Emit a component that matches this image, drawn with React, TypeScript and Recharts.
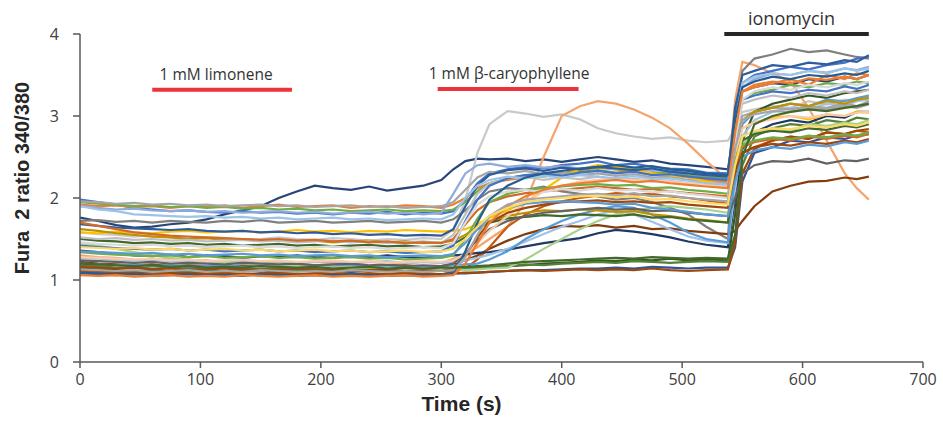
import React from 'react';
import { LineChart, Line, XAxis, YAxis, ReferenceLine, Label } from 'recharts';

// time points (s)
const times = [
  0, 15, 30, 45, 60, 75, 90, 105, 120, 135, 150, 165, 180, 195, 210, 225, 240, 255, 270, 285, 300,
  310, 320, 330, 340, 355, 370, 385, 400, 415,
  430, 445, 460, 475, 490, 505, 520, 538,
  544, 550, 560, 575, 590, 605, 620, 635, 645, 655,
];

const xTicks = [0, 100, 200, 300, 400, 500, 600, 700];
const yTicks = [0, 1, 2, 3, 4];

const cell01 = [
  1.76, 1.72, 1.67, 1.64, 1.65, 1.68, 1.70, 1.74, 1.80, 1.85, 1.90, 2.00, 2.08, 2.15, 2.12, 2.10, 2.14, 2.09, 2.12, 2.15, 2.22,
  2.35, 2.45, 2.48, 2.47, 2.48, 2.45, 2.47, 2.44, 2.47,
  2.50, 2.47, 2.44, 2.46, 2.42, 2.40, 2.38, 2.35,
  2.90, 3.30, 3.35, 3.40, 3.38, 3.45, 3.42, 3.48, 3.45, 3.50,
];
const cell02 = [
  1.58, 1.56, 1.55, 1.53, 1.55, 1.52, 1.50, 1.52, 1.51, 1.49, 1.50, 1.52, 1.50, 1.49, 1.51, 1.50, 1.48, 1.50, 1.49, 1.51, 1.50,
  1.62, 1.98, 2.55, 2.90, 3.06, 3.03, 2.99, 3.02, 2.96,
  2.85, 2.79, 2.75, 2.72, 2.74, 2.70, 2.68, 2.70,
  2.85, 3.05, 3.08, 3.12, 3.10, 3.18, 3.14, 3.20, 3.18, 3.25,
];
const cell03 = [
  1.30, 1.28, 1.27, 1.25, 1.24, 1.26, 1.23, 1.24, 1.22, 1.23, 1.21, 1.22, 1.20, 1.22, 1.21, 1.20, 1.22, 1.21, 1.20, 1.22, 1.21,
  1.26, 1.32, 1.40, 1.50, 1.65, 1.95, 2.50, 3.00, 3.12,
  3.18, 3.15, 3.08, 2.98, 2.85, 2.66, 2.45, 2.22,
  3.20, 3.66, 3.62, 3.52, 3.42, 3.10, 2.70, 2.30, 2.12, 1.98,
];
const cell04 = [
  1.72, 1.73, 1.71, 1.72, 1.70, 1.72, 1.71, 1.70, 1.72, 1.71, 1.73, 1.70, 1.71, 1.72, 1.70, 1.71, 1.72, 1.70, 1.71, 1.72, 1.70,
  1.74, 1.85, 1.98, 2.08, 2.12, 2.10, 2.14, 2.08, 2.05,
  2.02, 1.98, 2.00, 1.95, 1.88, 1.80, 1.65, 1.50,
  2.80, 3.55, 3.70, 3.75, 3.82, 3.78, 3.80, 3.75, 3.72, 3.70,
];
const cell05 = [
  1.22, 1.20, 1.19, 1.18, 1.19, 1.17, 1.18, 1.17, 1.16, 1.18, 1.17, 1.16, 1.17, 1.18, 1.16, 1.17, 1.16, 1.17, 1.18, 1.16, 1.17,
  1.19, 1.24, 1.30, 1.38, 1.48, 1.56, 1.62, 1.66, 1.65,
  1.67, 1.64, 1.66, 1.62, 1.63, 1.60, 1.58, 1.56,
  1.60, 1.72, 1.90, 2.08, 2.15, 2.20, 2.21, 2.25, 2.23, 2.26,
];
const cell06 = [
  1.10, 1.09, 1.08, 1.07, 1.09, 1.08, 1.07, 1.08, 1.06, 1.08, 1.07, 1.09, 1.07, 1.08, 1.06, 1.07, 1.08, 1.07, 1.06, 1.08, 1.07,
  1.10, 1.14, 1.25, 1.40, 1.65, 1.80, 1.90, 1.96, 2.00,
  2.03, 2.06, 2.04, 2.05, 2.02, 2.00, 1.97, 1.93,
  2.30, 2.55, 2.62, 2.70, 2.75, 2.72, 2.80, 2.78, 2.82, 2.80,
];
const cell07 = [
  1.14, 1.13, 1.12, 1.11, 1.12, 1.10, 1.11, 1.12, 1.10, 1.11, 1.12, 1.10, 1.11, 1.12, 1.11, 1.10, 1.12, 1.11, 1.10, 1.12, 1.11,
  1.12, 1.13, 1.14, 1.15, 1.17, 1.18, 1.20, 1.21, 1.22,
  1.24, 1.23, 1.25, 1.24, 1.26, 1.24, 1.25, 1.24,
  1.80, 2.70, 3.05, 3.15, 3.20, 3.25, 3.22, 3.28, 3.30, 3.32,
];
const cell08 = [
  1.18, 1.17, 1.15, 1.16, 1.14, 1.15, 1.14, 1.13, 1.15, 1.14, 1.13, 1.14, 1.12, 1.14, 1.13, 1.12, 1.13, 1.14, 1.12, 1.13, 1.12,
  1.13, 1.14, 1.15, 1.16, 1.17, 1.19, 1.18, 1.20, 1.21,
  1.22, 1.21, 1.23, 1.22, 1.21, 1.22, 1.23, 1.22,
  1.50, 2.40, 2.75, 2.85, 2.90, 2.88, 2.95, 2.92, 2.98, 2.96,
];
const cell09 = [
  1.09, 1.08, 1.07, 1.08, 1.06, 1.07, 1.08, 1.06, 1.07, 1.06, 1.08, 1.07, 1.06, 1.07, 1.06, 1.08, 1.07, 1.06, 1.07, 1.06, 1.07,
  1.08, 1.08, 1.09, 1.10, 1.11, 1.12, 1.12, 1.13, 1.14,
  1.14, 1.15, 1.14, 1.16, 1.15, 1.14, 1.15, 1.15,
  1.40, 2.20, 2.55, 2.62, 2.70, 2.68, 2.74, 2.72, 2.76, 2.78,
];
const cell10 = [
  1.12, 1.11, 1.10, 1.09, 1.10, 1.08, 1.09, 1.08, 1.09, 1.07, 1.08, 1.09, 1.07, 1.08, 1.09, 1.07, 1.08, 1.07, 1.09, 1.08, 1.07,
  1.08, 1.09, 1.09, 1.10, 1.11, 1.12, 1.11, 1.12, 1.13,
  1.12, 1.13, 1.12, 1.14, 1.12, 1.11, 1.12, 1.13,
  1.45, 2.30, 2.60, 2.70, 2.75, 2.72, 2.80, 2.78, 2.82, 2.84,
];
const cell11 = [
  1.36, 1.34, 1.32, 1.30, 1.29, 1.31, 1.28, 1.30, 1.29, 1.27, 1.29, 1.28, 1.30, 1.28, 1.27, 1.29, 1.28, 1.30, 1.28, 1.27, 1.29,
  1.30, 1.31, 1.33, 1.34, 1.37, 1.41, 1.45, 1.48, 1.51,
  1.57, 1.61, 1.59, 1.56, 1.52, 1.47, 1.43, 1.40,
  2.00, 2.60, 2.80, 2.90, 2.95, 2.92, 3.00, 2.98, 3.05, 3.05,
];
const cell12 = [
  1.27, 1.26, 1.25, 1.24, 1.25, 1.23, 1.24, 1.22, 1.23, 1.24, 1.22, 1.23, 1.21, 1.22, 1.23, 1.21, 1.22, 1.23, 1.21, 1.22, 1.21,
  1.22, 1.24, 1.27, 1.31, 1.38, 1.47, 1.56, 1.65, 1.72,
  1.80, 1.85, 1.80, 1.71, 1.62, 1.53, 1.48, 1.45,
  2.10, 2.75, 2.95, 3.05, 3.10, 3.08, 3.15, 3.12, 3.18, 3.20,
];
const cell13 = [
  1.20, 1.19, 1.18, 1.19, 1.17, 1.18, 1.16, 1.17, 1.18, 1.16, 1.17, 1.18, 1.16, 1.17, 1.16, 1.18, 1.17, 1.16, 1.17, 1.16, 1.17,
  1.18, 1.19, 1.20, 1.25, 1.35, 1.50, 1.62, 1.72, 1.80,
  1.86, 1.90, 1.88, 1.80, 1.70, 1.58, 1.50, 1.46,
  2.30, 2.90, 3.05, 3.10, 3.15, 3.12, 3.20, 3.18, 3.22, 3.25,
];
const cell14 = [
  1.45, 1.42, 1.38, 1.34, 1.30, 1.27, 1.25, 1.23, 1.22, 1.20, 1.19, 1.18, 1.17, 1.16, 1.15, 1.16, 1.14, 1.15, 1.13, 1.14, 1.13,
  1.13, 1.12, 1.13, 1.14, 1.15, 1.25, 1.38, 1.50, 1.62,
  1.72, 1.80, 1.85, 1.88, 1.90, 1.88, 1.86, 1.82,
  2.20, 2.65, 2.80, 2.85, 2.82, 2.90, 2.88, 2.92, 2.90, 2.95,
];
const cell15 = [
  1.98, 1.95, 1.92, 1.88, 1.86, 1.84, 1.85, 1.83, 1.82, 1.84, 1.82, 1.83, 1.81, 1.82, 1.80, 1.82, 1.81, 1.83, 1.80, 1.82, 1.81,
  1.84, 1.98, 2.18, 2.30, 2.35, 2.38, 2.36, 2.40, 2.42,
  2.45, 2.40, 2.42, 2.38, 2.36, 2.35, 2.31, 2.30,
  3.00, 3.40, 3.50, 3.55, 3.60, 3.57, 3.62, 3.65, 3.70, 3.72,
];
const cell16 = [
  1.92, 1.90, 1.91, 1.89, 1.90, 1.88, 1.90, 1.89, 1.91, 1.88, 1.90, 1.92, 1.89, 1.90, 1.91, 1.88, 1.90, 1.89, 1.91, 1.90, 1.88,
  1.92, 2.00, 2.12, 2.18, 2.22, 2.25, 2.28, 2.30, 2.34,
  2.37, 2.35, 2.32, 2.30, 2.28, 2.25, 2.22, 2.20,
  2.90, 3.30, 3.35, 3.40, 3.45, 3.38, 3.50, 3.45, 3.52, 3.50,
];
const cell17 = [
  1.95, 1.93, 1.92, 1.90, 1.91, 1.89, 1.90, 1.88, 1.89, 1.87, 1.88, 1.86, 1.87, 1.85, 1.86, 1.84, 1.85, 1.86, 1.84, 1.85, 1.84,
  1.86, 1.95, 2.08, 2.18, 2.24, 2.28, 2.26, 2.30, 2.32,
  2.34, 2.31, 2.33, 2.30, 2.32, 2.28, 2.26, 2.24,
  2.90, 3.20, 3.28, 3.32, 3.38, 3.35, 3.40, 3.38, 3.42, 3.40,
];
const cell18 = [
  1.96, 1.95, 1.93, 1.94, 1.92, 1.93, 1.91, 1.92, 1.90, 1.91, 1.92, 1.90, 1.91, 1.89, 1.90, 1.91, 1.89, 1.90, 1.88, 1.89, 1.90,
  1.95, 2.10, 2.25, 2.32, 2.30, 2.33, 2.29, 2.31, 2.28,
  2.30, 2.27, 2.29, 2.25, 2.26, 2.22, 2.20, 2.18,
  2.70, 3.00, 3.05, 3.10, 3.08, 3.12, 3.10, 3.15, 3.12, 3.18,
];
const cell19 = [
  1.90, 1.88, 1.86, 1.87, 1.85, 1.84, 1.85, 1.83, 1.84, 1.82, 1.83, 1.84, 1.82, 1.83, 1.81, 1.82, 1.83, 1.81, 1.82, 1.80, 1.82,
  2.05, 2.30, 2.40, 2.42, 2.38, 2.40, 2.37, 2.39, 2.36,
  2.38, 2.35, 2.37, 2.33, 2.34, 2.30, 2.28, 2.27,
  2.90, 3.35, 3.45, 3.52, 3.50, 3.55, 3.53, 3.58, 3.56, 3.60,
];
const cell20 = [
  1.58, 1.57, 1.59, 1.58, 1.57, 1.59, 1.60, 1.58, 1.59, 1.60, 1.58, 1.59, 1.61, 1.59, 1.60, 1.58, 1.60, 1.59, 1.61, 1.60, 1.59,
  1.60, 1.62, 1.68, 1.76, 1.85, 1.95, 2.10, 2.25, 2.35,
  2.40, 2.38, 2.35, 2.30, 2.28, 2.25, 2.20, 2.15,
  2.60, 2.85, 2.92, 2.98, 3.00, 2.96, 3.02, 3.00, 3.05, 3.04,
];
const cell21 = [
  1.62, 1.60, 1.57, 1.55, 1.53, 1.52, 1.50, 1.51, 1.49, 1.50, 1.48, 1.49, 1.47, 1.48, 1.46, 1.47, 1.48, 1.46, 1.47, 1.45, 1.46,
  1.48, 1.55, 1.65, 1.72, 1.78, 1.82, 1.85, 1.84, 1.86,
  1.85, 1.83, 1.84, 1.80, 1.78, 1.75, 1.73, 1.70,
  2.50, 2.95, 3.05, 3.10, 3.15, 3.12, 3.18, 3.15, 3.20, 3.22,
];
const cell22 = [
  1.50, 1.48, 1.47, 1.45, 1.46, 1.44, 1.45, 1.43, 1.44, 1.42, 1.43, 1.44, 1.42, 1.43, 1.41, 1.42, 1.43, 1.41, 1.42, 1.40, 1.41,
  1.44, 1.52, 1.62, 1.70, 1.75, 1.77, 1.79, 1.78, 1.80,
  1.79, 1.78, 1.80, 1.76, 1.77, 1.74, 1.72, 1.70,
  2.30, 2.70, 2.78, 2.82, 2.80, 2.85, 2.83, 2.88, 2.86, 2.90,
];
const cell23 = [
  1.24, 1.23, 1.22, 1.21, 1.22, 1.20, 1.21, 1.20, 1.19, 1.21, 1.20, 1.19, 1.20, 1.18, 1.19, 1.20, 1.18, 1.19, 1.17, 1.18, 1.17,
  1.20, 1.32, 1.48, 1.62, 1.72, 1.78, 1.82, 1.84, 1.86,
  1.88, 1.86, 1.87, 1.84, 1.85, 1.82, 1.80, 1.78,
  2.00, 2.30, 2.40, 2.45, 2.44, 2.48, 2.42, 2.46, 2.45, 2.48,
];
const cell24 = [
  1.68, 1.66, 1.64, 1.63, 1.62, 1.61, 1.62, 1.60, 1.59, 1.60, 1.58, 1.59, 1.57, 1.58, 1.56, 1.57, 1.55, 1.56, 1.54, 1.55, 1.54,
  1.62, 1.90, 2.15, 2.28, 2.34, 2.36, 2.33, 2.37, 2.35,
  2.38, 2.36, 2.34, 2.36, 2.32, 2.30, 2.28, 2.26,
  3.10, 3.50, 3.55, 3.62, 3.60, 3.65, 3.63, 3.68, 3.66, 3.74,
];
const cell25 = [
  1.52, 1.50, 1.51, 1.49, 1.50, 1.48, 1.49, 1.47, 1.48, 1.49, 1.47, 1.48, 1.46, 1.47, 1.48, 1.46, 1.47, 1.45, 1.46, 1.47, 1.45,
  1.55, 1.80, 2.05, 2.18, 2.24, 2.26, 2.22, 2.25, 2.23,
  2.26, 2.22, 2.24, 2.20, 2.21, 2.18, 2.15, 2.12,
  2.80, 3.15, 3.20, 3.25, 3.22, 3.28, 3.25, 3.30, 3.28, 3.32,
];
const cell26 = [
  1.70, 1.66, 1.62, 1.58, 1.56, 1.54, 1.53, 1.52, 1.51, 1.50, 1.49, 1.50, 1.48, 1.49, 1.47, 1.48, 1.46, 1.47, 1.45, 1.46, 1.45,
  1.50, 1.68, 1.85, 1.95, 2.02, 2.06, 2.08, 2.10, 2.12,
  2.14, 2.12, 2.10, 2.11, 2.08, 2.06, 2.04, 2.02,
  2.40, 2.62, 2.68, 2.72, 2.70, 2.75, 2.72, 2.76, 2.74, 2.78,
];
const cell27 = [
  1.28, 1.27, 1.26, 1.25, 1.26, 1.24, 1.25, 1.23, 1.24, 1.25, 1.23, 1.24, 1.22, 1.23, 1.24, 1.22, 1.23, 1.21, 1.22, 1.23, 1.22,
  1.24, 1.32, 1.45, 1.60, 1.78, 1.95, 2.08, 2.15, 2.20,
  2.22, 2.24, 2.21, 2.23, 2.20, 2.18, 2.16, 2.14,
  2.55, 2.85, 2.92, 2.96, 3.00, 2.98, 3.02, 3.00, 3.04, 3.05,
];
const cell28 = [
  1.42, 1.40, 1.39, 1.38, 1.37, 1.38, 1.36, 1.37, 1.35, 1.36, 1.37, 1.35, 1.36, 1.34, 1.35, 1.36, 1.34, 1.35, 1.33, 1.34, 1.35,
  1.42, 1.72, 1.98, 2.15, 2.24, 2.28, 2.30, 2.27, 2.31,
  2.33, 2.30, 2.32, 2.28, 2.29, 2.26, 2.24, 2.22,
  2.85, 3.20, 3.25, 3.30, 3.28, 3.32, 3.30, 3.36, 3.33, 3.38,
];
const cell29 = [
  1.34, 1.32, 1.31, 1.30, 1.29, 1.30, 1.28, 1.29, 1.27, 1.28, 1.29, 1.27, 1.28, 1.26, 1.27, 1.28, 1.26, 1.27, 1.25, 1.26, 1.27,
  1.30, 1.50, 1.75, 1.95, 2.05, 2.10, 2.12, 2.14, 2.16,
  2.17, 2.15, 2.16, 2.12, 2.13, 2.10, 2.08, 2.05,
  2.45, 2.65, 2.70, 2.74, 2.72, 2.76, 2.74, 2.78, 2.76, 2.80,
];
const cell30 = [
  1.46, 1.44, 1.43, 1.42, 1.43, 1.41, 1.42, 1.40, 1.41, 1.42, 1.40, 1.41, 1.39, 1.40, 1.41, 1.39, 1.40, 1.38, 1.39, 1.40, 1.39,
  1.45, 1.70, 1.92, 2.02, 2.08, 2.10, 2.07, 2.11, 2.09,
  2.12, 2.09, 2.10, 2.07, 2.08, 2.05, 2.03, 2.00,
  2.70, 3.20, 3.30, 3.35, 3.32, 3.38, 3.35, 3.40, 3.38, 3.42,
];
const cell31 = [
  1.90, 1.86, 1.84, 1.80, 1.79, 1.78, 1.77, 1.78, 1.76, 1.77, 1.75, 1.76, 1.74, 1.75, 1.76, 1.74, 1.75, 1.73, 1.74, 1.75, 1.74,
  1.80, 2.00, 2.15, 2.22, 2.26, 2.24, 2.27, 2.25, 2.28,
  2.26, 2.24, 2.27, 2.23, 2.24, 2.21, 2.18, 2.16,
  2.90, 3.40, 3.48, 3.52, 3.50, 3.55, 3.52, 3.58, 3.55, 3.58,
];
const cell32 = [
  1.16, 1.15, 1.14, 1.15, 1.13, 1.14, 1.12, 1.13, 1.14, 1.12, 1.13, 1.12, 1.14, 1.12, 1.13, 1.11, 1.12, 1.13, 1.11, 1.12, 1.11,
  1.14, 1.30, 1.52, 1.70, 1.82, 1.88, 1.92, 1.95, 1.96,
  1.97, 1.95, 1.96, 1.94, 1.95, 1.92, 1.90, 1.88,
  2.30, 2.55, 2.62, 2.66, 2.64, 2.68, 2.66, 2.70, 2.68, 2.72,
];
const cell33 = [
  1.08, 1.07, 1.06, 1.07, 1.05, 1.06, 1.07, 1.05, 1.06, 1.05, 1.07, 1.06, 1.05, 1.06, 1.05, 1.07, 1.06, 1.05, 1.06, 1.05, 1.06,
  1.08, 1.35, 1.70, 1.98, 2.15, 2.25, 2.30, 2.33, 2.36,
  2.38, 2.40, 2.37, 2.39, 2.35, 2.33, 2.30, 2.28,
  2.95, 3.35, 3.42, 3.48, 3.45, 3.50, 3.48, 3.52, 3.50, 3.55,
];
const cell34 = [
  1.06, 1.05, 1.06, 1.04, 1.05, 1.06, 1.04, 1.05, 1.04, 1.06, 1.05, 1.04, 1.05, 1.06, 1.04, 1.05, 1.04, 1.05, 1.06, 1.04, 1.05,
  1.06, 1.20, 1.45, 1.70, 1.90, 2.02, 2.10, 2.15, 2.18,
  2.20, 2.22, 2.19, 2.21, 2.18, 2.16, 2.14, 2.12,
  2.80, 3.30, 3.38, 3.42, 3.40, 3.46, 3.44, 3.48, 3.45, 3.50,
];
const cell35 = [
  1.13, 1.12, 1.11, 1.12, 1.10, 1.11, 1.12, 1.10, 1.11, 1.10, 1.12, 1.11, 1.10, 1.11, 1.10, 1.12, 1.11, 1.10, 1.11, 1.10, 1.11,
  1.12, 1.28, 1.55, 1.78, 1.92, 1.98, 2.00, 2.02, 2.04,
  2.05, 2.03, 2.06, 2.02, 2.03, 2.00, 1.98, 1.96,
  2.60, 2.95, 3.02, 3.06, 3.05, 3.10, 3.08, 3.12, 3.10, 3.14,
];
const cell36 = [
  1.35, 1.34, 1.33, 1.32, 1.33, 1.31, 1.32, 1.30, 1.31, 1.32, 1.30, 1.31, 1.29, 1.30, 1.31, 1.29, 1.30, 1.28, 1.29, 1.30, 1.29,
  1.32, 1.45, 1.62, 1.78, 1.88, 1.93, 1.95, 1.96, 1.95,
  1.94, 1.92, 1.93, 1.88, 1.86, 1.83, 1.80, 1.78,
  2.20, 2.50, 2.58, 2.62, 2.60, 2.65, 2.63, 2.68, 2.66, 2.70,
];
const cell37 = [
  1.40, 1.39, 1.38, 1.39, 1.37, 1.38, 1.36, 1.37, 1.38, 1.36, 1.37, 1.35, 1.36, 1.37, 1.35, 1.36, 1.34, 1.35, 1.36, 1.34, 1.35,
  1.38, 1.50, 1.65, 1.78, 1.88, 1.95, 1.98, 2.00, 2.02,
  2.03, 2.01, 2.02, 1.98, 1.99, 1.96, 1.94, 1.92,
  2.40, 2.75, 2.82, 2.85, 2.84, 2.88, 2.86, 2.90, 2.88, 2.92,
];
const cell38 = [
  1.20, 1.19, 1.18, 1.17, 1.18, 1.16, 1.17, 1.15, 1.16, 1.15, 1.17, 1.16, 1.15, 1.16, 1.14, 1.15, 1.16, 1.14, 1.15, 1.14, 1.15,
  1.15, 1.16, 1.17, 1.18, 1.20, 1.22, 1.23, 1.24, 1.25,
  1.26, 1.27, 1.26, 1.28, 1.27, 1.26, 1.27, 1.26,
  1.55, 2.50, 2.90, 3.00, 3.05, 3.08, 3.06, 3.10, 3.12, 3.15,
];

const cells = [
  cell01, cell02, cell03, cell04, cell05, cell06, cell07, cell08, cell09, cell10,
  cell11, cell12, cell13, cell14, cell15, cell16, cell17, cell18, cell19, cell20,
  cell21, cell22, cell23, cell24, cell25, cell26, cell27, cell28, cell29, cell30,
  cell31, cell32, cell33, cell34, cell35, cell36, cell37, cell38,
];

const cellColors = [
  '#264478', '#c9c9c9', '#f4a56f', '#7f7f7f', '#843c0c', '#c55a11', '#375623', '#548235', '#2f5597', '#9e480e',
  '#203864', '#9dc3e6', '#5b9bd5', '#a9d18e', '#4472c4', '#ed7d31', '#70ad47', '#a5a5a5', '#8faadc', '#ffc000',
  '#bf9000', '#43682b', '#636363', '#2e5c9a', '#bfbfbf', '#d26b2a', '#f8cbad', '#4472c4', '#70ad47', '#d9d9d9',
  '#9dc3e6', '#9e480e', '#255e91', '#ed7d31', '#a5a5a5', '#5b9bd5', '#ffd966', '#43682b',
];

// treatment bars: [start s, end s, level]
const limonene = { label: '1 mM limonene', start: 60, end: 176, level: 3.32 };
const caryophyllene = { label: '1 mM \u03b2-caryophyllene', start: 297, end: 414, level: 3.33 };
const ionomycin = { label: 'ionomycin', start: 535, end: 655, level: 4.0 };

const data = times.map((t, i) => {
  const row: Record<string, number> = { t };
  cells.forEach((c, k) => {
    row['c' + k] = c[i];
  });
  return row;
});

const FONT = "'Open Sans', 'DejaVu Sans', sans-serif";
const LABEL_FONT = "'Liberation Sans', Arial, sans-serif";

const YLabel = (props: any) => {
  const vb = props.viewBox || {};
  const cx = vb.x + 29;
  const cy = vb.y + vb.height / 2 - 20;
  return (
    <text
      x={cx}
      y={cy}
      transform={`rotate(-90, ${cx}, ${cy})`}
      textAnchor="middle"
      fontFamily={LABEL_FONT}
      fontWeight="bold"
      fontSize={20}
      fill="#262626"
      style={{ whiteSpace: 'pre' }}
    >
      {'Fura  2 ratio 340/380'}
    </text>
  );
};

const XLabel = (props: any) => {
  const vb = props.viewBox || {};
  return (
    <text
      x={vb.x + vb.width / 2 - 40}
      y={vb.y + 49}
      textAnchor="middle"
      fontFamily={LABEL_FONT}
      fontWeight="bold"
      fontSize={21}
      fill="#262626"
    >
      Time (s)
    </text>
  );
};

const barLabel = (text: string, size: number, lift: number, shift: number) => (props: any) => {
  const vb = props.viewBox || {};
  return (
    <text
      x={vb.x + (vb.width || 0) / 2 + shift}
      y={vb.y - lift}
      textAnchor="middle"
      fontFamily={FONT}
      fontSize={size}
      fill="#333333"
    >
      {text}
    </text>
  );
};

export default function App() {
  return (
    <div style={{ position: 'absolute', left: 0, top: 0, width: 943, height: 428, background: '#fff' }}>
      <LineChart
        width={943}
        height={428}
        data={data}
        margin={{ top: 34, right: 20, bottom: 36, left: 0 }}
      >
        <XAxis
          dataKey="t"
          type="number"
          domain={[0, 700]}
          ticks={xTicks}
          height={30}
          allowDataOverflow
          stroke="#595959"
          strokeWidth={1.5}
          tickSize={6}
          tickMargin={6}
          tick={{ fill: '#404040', fontSize: 16, fontFamily: FONT }}
        >
          <Label content={XLabel} />
        </XAxis>
        <YAxis
          type="number"
          domain={[0, 4]}
          ticks={yTicks}
          width={80}
          allowDataOverflow
          stroke="#595959"
          strokeWidth={1.5}
          tickSize={7}
          tickMargin={14}
          tick={{ fill: '#404040', fontSize: 16, fontFamily: FONT }}
        >
          <Label content={YLabel} />
        </YAxis>
        {cells.map((_, k) => (
          <Line
            key={k}
            type="linear"
            dataKey={'c' + k}
            stroke={cellColors[k]}
            strokeWidth={2.2}
            dot={false}
            activeDot={false}
            isAnimationActive={false}
          />
        ))}
        <ReferenceLine
          segment={[{ x: limonene.start, y: limonene.level }, { x: limonene.end, y: limonene.level }]}
          stroke="#ee3338"
          strokeWidth={4}
          ifOverflow="visible"
          label={barLabel(limonene.label, 15.5, 10, -6)}
        />
        <ReferenceLine
          segment={[{ x: caryophyllene.start, y: caryophyllene.level }, { x: caryophyllene.end, y: caryophyllene.level }]}
          stroke="#ee3338"
          strokeWidth={4}
          ifOverflow="visible"
          label={barLabel(caryophyllene.label, 15.5, 10, 1)}
        />
        <ReferenceLine
          segment={[{ x: ionomycin.start, y: ionomycin.level }, { x: ionomycin.end, y: ionomycin.level }]}
          stroke="#262626"
          strokeWidth={4}
          ifOverflow="visible"
          label={barLabel(ionomycin.label, 18, 9, -5)}
        />
      </LineChart>
    </div>
  );
}
